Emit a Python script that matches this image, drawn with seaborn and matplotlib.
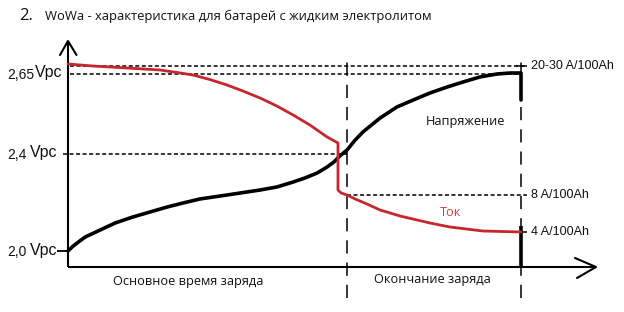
import matplotlib
matplotlib.use("Agg")
import matplotlib.pyplot as plt
import seaborn as sns
import pandas as pd

# ---- data (time in % of charge time, level in schematic chart units) ----
voltage_time = [0, 0.9, 2.0, 3.8, 7.1, 10.4, 14.3, 18.1, 21.9, 25.4, 29.1, 35.1,
                42.4, 46.1, 49.7, 52.3, 55.0, 57.2, 58.7, 60.0, 61.6, 63.4, 65.1,
                68.9, 72.6, 76.2, 79.9, 83.7, 87.2, 90.9, 94.7, 97.6, 100, 100]
voltage_level = [16, 20, 24, 30, 37, 44, 50, 55, 60, 64, 68, 72,
                 77, 80, 85, 89, 94, 100, 105, 111, 117, 127, 135,
                 149, 160, 167, 174, 180, 185, 190, 193, 194, 194, 167]

current_time = [0, 5.5, 13.0, 20.3, 24.1, 27.6, 31.3, 35.1, 38.6, 42.4, 46.1,
                49.7, 53.4, 57.2, 59.6, 59.6, 60.3, 61.6, 63.4, 66.0, 68.9,
                73.3, 79.9, 84.3, 91.6, 100]
current_level = [203, 201, 199, 197, 194.5, 192, 187.5, 182, 176, 169, 161,
                 152, 142, 130, 124, 77, 74, 72, 68, 63, 57,
                 51, 44, 40, 36, 35]

volt_labels = ["2,0", "2,4", "2,65"]
volt_levels = [16, 113, 193]
amp_labels = ["20-30 A/100Ah", "8 A/100Ah", "4 A/100Ah"]
amp_levels = [201, 72, 35]
phase_boundary = 61.6
charge_end = 100
title = "WoWa - характеристика для батарей с жидким электролитом"
phase_labels = ["Основное время заряда", "Окончание заряда"]

# ---- layout helpers (pixel -> data) ----
W, H = 624, 312
def tx(px):
    return (px - 68) / 4.53
def ly(py):
    return 267 - py

sns.set_theme(style="white")
plt.rcParams["lines.scale_dashes"] = False

fig = plt.figure(figsize=(W / 100, H / 100), dpi=100)
ax = fig.add_axes([0, 0, 1, 1])
ax.set_xlim(tx(0), tx(W))
ax.set_ylim(ly(H), ly(0))
ax.axis("off")

RED = "#c6262e"
dash_h = (0, (2.9, 1.8))
dash_v = (0, (9.5, 6.5))

# horizontal reference lines
ax.hlines(amp_levels[0], tx(70), tx(527), color="black", lw=1.1, linestyle=dash_h)
ax.hlines(volt_levels[2], tx(70), tx(521), color="black", lw=1.1, linestyle=dash_h)
ax.hlines(volt_levels[1], tx(63), phase_boundary, color="black", lw=1.1, linestyle=dash_h)
ax.hlines(amp_levels[1], phase_boundary, tx(527), color="black", lw=1.1, linestyle=dash_h)
ax.hlines(amp_levels[2], tx(517), tx(527), color="black", lw=1.1)
ax.hlines(amp_levels[0], tx(516), tx(527), color="black", lw=1.1)

# vertical phase lines
ax.vlines(phase_boundary, ly(298), ly(58), color="black", lw=1.1, linestyle=dash_v)
ax.vlines(charge_end, ly(298), ly(58), color="black", lw=1.1, linestyle=dash_v)
ax.vlines(charge_end, 0, ly(226), color="black", lw=2.6)

# axes with open arrows
ax.plot([0, 0], [0, ly(41)], color="black", lw=1.5, solid_capstyle="butt")
ax.plot([0, tx(596)], [0, 0], color="black", lw=1.5, solid_capstyle="butt")
ax.plot([tx(60), tx(68), tx(76.5)], [ly(55), ly(41), ly(55)], color="black", lw=1.5)
ax.plot([tx(575), tx(596), tx(577)], [ly(258), ly(267), ly(278)], color="black", lw=1.5)
ax.hlines(volt_levels[0], tx(57), 0, color="black", lw=1.3)

# curves
df_v = pd.DataFrame({"t": voltage_time, "level": voltage_level})
df_i = pd.DataFrame({"t": current_time, "level": current_level})
sns.lineplot(data=df_v, x="t", y="level", ax=ax, color="black", lw=2.6,
             sort=False, estimator=None, legend=False)
sns.lineplot(data=df_i, x="t", y="level", ax=ax, color=RED, lw=2.0,
             sort=False, estimator=None, legend=False)

# left voltage labels
num_x = {"2,0": 7, "2,4": 7, "2,65": 7}
unit_x = {"2,0": 57, "2,4": 57, "2,65": 62}
for lab, lev in zip(volt_labels, volt_levels):
    ax.text(tx(num_x[lab]), lev - 1, lab, fontsize=10, family="Liberation Sans",
            ha="left", va="center", color="#111111")
    ax.text(tx(unit_x[lab]), lev + 1, "Vpc", fontsize=11.5, family="Liberation Sans",
            ha="right", va="center", color="#111111")

# right current labels
for lab, lev in zip(amp_labels, amp_levels):
    ax.text(tx(531), lev, lab, fontsize=9, family="Liberation Sans",
            ha="left", va="center", color="#111111")

cyr = ["Open Sans", "DejaVu Sans"]
ax.text(tx(465), ly(121), "Напряжение", fontsize=9.2, family=cyr,
        ha="center", va="center", color="#111111")
ax.text(tx(451), ly(213), "Ток", fontsize=9.2, family=cyr,
        ha="center", va="center", color="#d0403c")
ax.text(tx(188), ly(282), phase_labels[0], fontsize=9.2, family=cyr,
        ha="center", va="center", color="#111111")
ax.text(tx(432), ly(280), phase_labels[1], fontsize=9.2, family=cyr,
        ha="center", va="center", color="#111111")

# title
fig.text(19 / W, 1 - 16 / H, "2.", fontsize=12, family=cyr, ha="left", va="center",
         color="#111111")
fig.text(45 / W, 1 - 16 / H, title, fontsize=9.4, family=cyr, ha="left", va="center",
         color="#111111")

fig.savefig("out.png", dpi=100, facecolor="white")
